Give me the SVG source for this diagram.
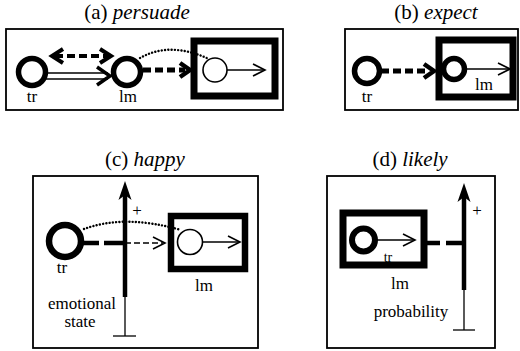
<svg xmlns="http://www.w3.org/2000/svg" width="520" height="351" viewBox="0 0 520 351" font-family="Liberation Serif, Times New Roman, serif">
<defs>
<style>
.frame{fill:none;stroke:#000;stroke-width:1.8}
.thickbox{fill:none;stroke:#000;stroke-width:7}
.bigc{fill:none;stroke:#000;stroke-width:5.5}
.thinc{fill:none;stroke:#000;stroke-width:1.6}
.thin{fill:none;stroke:#000;stroke-width:1.5}
.tdash{fill:none;stroke:#000;stroke-width:5;stroke-dasharray:8 4}
.ndash{fill:none;stroke:#000;stroke-width:1.4;stroke-dasharray:6 3}
.dot{fill:none;stroke:#000;stroke-width:2.4;stroke-dasharray:0.1 3.2;stroke-linecap:round}
.bchev{fill:none;stroke:#000;stroke-width:4;stroke-linejoin:miter}
.tchev{fill:none;stroke:#000;stroke-width:1.6}
.axis{fill:none;stroke:#000;stroke-width:5}
.title{font-size:21px;text-anchor:middle}
.lab{font-size:17px;text-anchor:middle}
</style>
<path id="ahead" d="M0,0 L-6.5,19 L0,14 L6.5,19 Z" fill="#000"/>
</defs>

<g id="titles">
<text class="title" x="137" y="19">(a) <tspan font-style="italic">persuade</tspan></text>
<text class="title" x="436" y="19">(b) <tspan font-style="italic">expect</tspan></text>
<text class="title" x="145" y="166">(c) <tspan font-style="italic">happy</tspan></text>
<text class="title" x="410" y="166">(d) <tspan font-style="italic">likely</tspan></text>
</g>

<g id="panel-a">
<rect class="frame" x="6" y="29" width="277" height="81"/>
<g id="a-tr"><circle class="bigc" cx="32" cy="72" r="13.5"/><text class="lab" x="32" y="102">tr</text></g>
<g id="a-lm"><circle class="bigc" cx="127" cy="72" r="13.5"/><text class="lab" x="128" y="102">lm</text></g>
<g id="a-box"><rect class="thickbox" x="194" y="41" width="81" height="55"/><circle class="thinc" cx="215" cy="70" r="12"/></g>
<g id="a-connectors">
<line class="tdash" x1="55" y1="56" x2="110" y2="56" style="stroke-width:4"/>
<path class="bchev" d="M63,49 L52,56 L63,63"/>
<path class="bchev" d="M100,49 L111,56 L100,63"/>
<line class="thin" x1="46" y1="73" x2="108" y2="73"/>
<line class="thin" x1="44" y1="79" x2="108" y2="79"/>
<path class="bchev" d="M97,67 L110,76 L97,85" style="stroke-width:3.5"/>
<line class="tdash" x1="143" y1="70" x2="185" y2="70"/>
<path class="bchev" d="M180,63 L190,70 L180,77" style="stroke-width:4.5"/>
<line class="thin" x1="227" y1="70" x2="264" y2="70"/>
<path class="tchev" d="M253,64 L265,70 L253,76"/>
<path class="dot" d="M140,58 Q170,41 209,59"/>
</g>
</g>

<g id="panel-b">
<rect class="frame" x="345" y="29" width="173" height="81"/>
<g id="b-tr"><circle class="bigc" cx="367" cy="71" r="12.5"/><text class="lab" x="367" y="102">tr</text></g>
<g id="b-box"><rect class="thickbox" x="439" y="40" width="74" height="57"/><circle class="bigc" cx="454" cy="69" r="10.5"/><text class="lab" x="484" y="90">lm</text></g>
<g id="b-connectors">
<line class="tdash" x1="381" y1="71" x2="428" y2="71"/>
<path class="bchev" d="M424,64 L434,71 L424,78" style="stroke-width:4.5"/>
<line class="thin" x1="466" y1="69" x2="509" y2="69"/>
<path class="tchev" d="M498,63 L510,69 L498,75"/>
</g>
</g>

<g id="panel-c">
<rect class="frame" x="33" y="176" width="225" height="172"/>
<g id="c-axis">
<line class="axis" x1="125" y1="195" x2="125" y2="297" style="stroke-width:4.5"/>
<line class="thin" x1="125" y1="297" x2="125" y2="336" style="stroke-width:1.3"/>
<line class="thin" x1="113" y1="336" x2="136" y2="336" style="stroke-width:1.3"/>
<use href="#ahead" x="125" y="181"/>
<text class="lab" x="137" y="216">+</text>
<text class="lab" x="82" y="309">emotional</text>
<text class="lab" x="80" y="327">state</text>
</g>
<g id="c-tr"><circle class="bigc" cx="65" cy="241" r="16" style="stroke-width:6.5"/><text class="lab" x="62" y="273">tr</text></g>
<g id="c-lm"><rect class="thickbox" x="171" y="216" width="74" height="53" style="stroke-width:6.5"/><circle class="thinc" cx="190" cy="242" r="12.5"/><text class="lab" x="204" y="291">lm</text></g>
<g id="c-connectors">
<line class="tdash" x1="82" y1="243" x2="125" y2="243" style="stroke-width:4.5;stroke-dasharray:17 5 40"/>
<line class="ndash" x1="125" y1="243" x2="163" y2="243"/>
<path class="tchev" d="M153,237 L165,243 L153,249"/>
<line class="thin" x1="203" y1="242" x2="239" y2="242"/>
<path class="tchev" d="M228,236 L240,242 L228,248"/>
<path class="dot" d="M84,229 Q125,214 181,230"/>
</g>
</g>

<g id="panel-d">
<rect class="frame" x="327" y="176" width="168" height="172"/>
<g id="d-axis">
<line class="axis" x1="464" y1="197" x2="464" y2="290" style="stroke-width:4.5"/>
<line class="thin" x1="464" y1="290" x2="464" y2="330" style="stroke-width:1.3"/>
<line class="thin" x1="453" y1="330" x2="475" y2="330" style="stroke-width:1.3"/>
<use href="#ahead" x="464" y="183"/>
<text class="lab" x="477" y="216">+</text>
<text class="lab" x="411" y="317">probability</text>
</g>
<g id="d-lm"><rect class="thickbox" x="343" y="213" width="81" height="52"/><circle class="bigc" cx="363.5" cy="240" r="11.5" style="stroke-width:6"/><text class="lab" x="388" y="262" style="font-size:14px">tr</text><text class="lab" x="400" y="289">lm</text></g>
<g id="d-connectors">
<line class="thin" x1="376" y1="240" x2="414" y2="240"/>
<path class="tchev" d="M403,234 L415,240 L403,246"/>
<line class="tdash" x1="427" y1="243" x2="464" y2="243" style="stroke-width:4.5;stroke-dasharray:13 6 40"/>
</g>
</g>
</svg>
